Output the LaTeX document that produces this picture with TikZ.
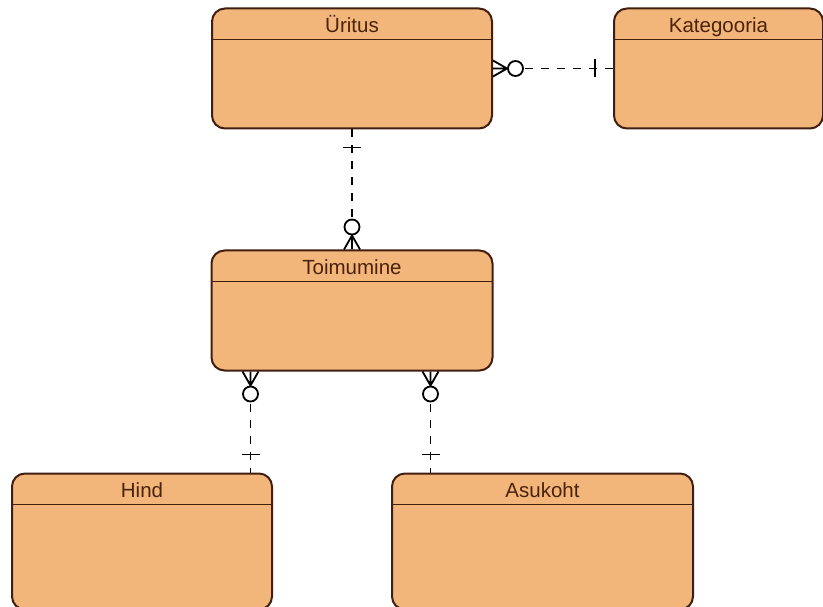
\documentclass[tikz,border=0pt]{standalone}
\usepackage{fontspec}
\setmainfont{Liberation Sans}
\usetikzlibrary{positioning}

\definecolor{entityfill}{RGB}{242,181,122}
\definecolor{entityline}{RGB}{65,30,15}
\definecolor{entitytext}{RGB}{75,35,10}

\tikzstyle{entity} = [rectangle, rounded corners=13pt, minimum height=120pt, inner sep=0pt, draw=entityline, line width=2pt, fill=entityfill, path picture={\draw[entityline, line width=1.8pt] ([yshift=-31pt]path picture bounding box.north west) -- ([yshift=-31pt]path picture bounding box.north east);}]
\tikzstyle{entitytitle} = [anchor=base, yshift=-25pt, text=entitytext, font=\fontsize{20.5}{24}\selectfont]
\tikzstyle{rel} = [line width=1.8pt, dash pattern=on 8pt off 8pt]

\tikzset{
  many/.pic={
    \draw[line width=1.8pt] (0,-8) -- (14,0) -- (0,8) (0,0) -- (14,0);
    \draw[line width=1.8pt, fill=white] (22.5,0) circle[radius=7.5pt];
  },
  one/.pic={
    \draw[line width=1.8pt] (18,-9) -- (18,9);
  }
}

\begin{document}
\begin{tikzpicture}[x=1pt, y=-1pt]
\useasboundingbox (0,0) rectangle (823,607);

\node (uritus) [entity, minimum width=280pt, label={[entitytitle]north:Üritus}] at (352,68.5) {};
\node (kategooria) [entity, minimum width=209pt, right=120pt of uritus, label={[entitytitle]north:Kategooria}] {};
\node (toimumine) [entity, minimum width=281pt, below=120pt of uritus, label={[entitytitle]north:Toimumine}] {};
\node (hind) [entity, minimum width=260pt, minimum height=136pt, below=101pt of toimumine, xshift=-210pt, label={[entitytitle]north:Hind}] {};
\node (asukoht) [entity, minimum width=301pt, minimum height=136pt, below=101pt of toimumine, xshift=190.5pt, label={[entitytitle]north:Asukoht}] {};

\coordinate (thind) at ([xshift=40pt]toimumine.south west);
\coordinate (tasukoht) at ([xshift=220pt]toimumine.south west);

% seosed
\draw [rel] (uritus) -- (kategooria);
\draw [rel] (uritus) -- (toimumine);
\draw [rel] (thind) -- (thind |- hind.north);
\draw [rel] (tasukoht) -- (tasukoht |- asukoht.north);

% otsad
\path (uritus.east) pic {many};
\path (kategooria.west) pic[rotate=180] {one};
\path (uritus.south) pic[rotate=-90] {one};
\path (toimumine.north) pic[rotate=90] {many};
\path (thind) pic[rotate=-90] {many};
\path (thind |- hind.north) pic[rotate=90] {one};
\path (tasukoht) pic[rotate=-90] {many};
\path (tasukoht |- asukoht.north) pic[rotate=90] {one};

\end{tikzpicture}
\end{document}
